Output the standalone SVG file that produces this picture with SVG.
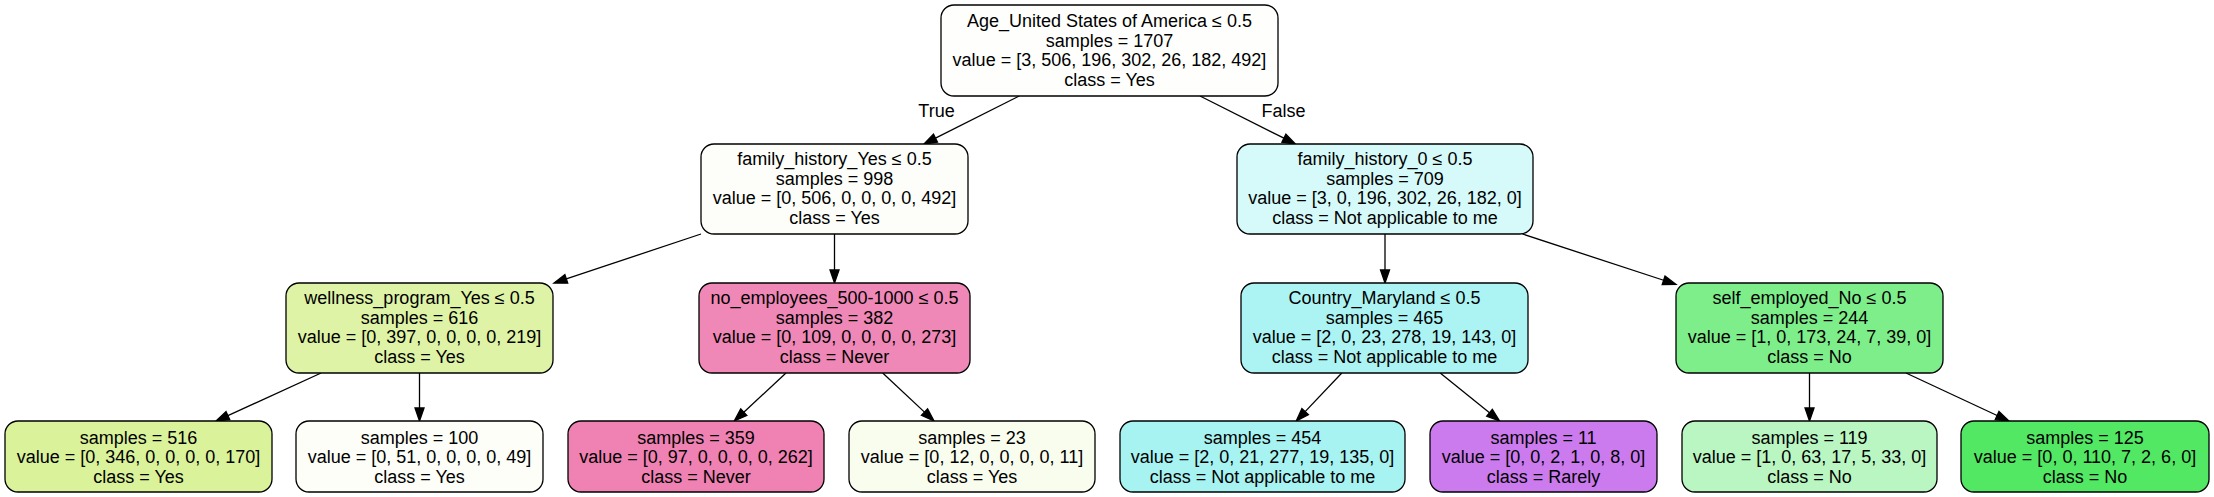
<svg xmlns="http://www.w3.org/2000/svg" width="2214" height="497" viewBox="0 0 2214 497">
<style>
.n{stroke:#000;stroke-width:1.3}
text{font-family:"Liberation Sans",Arial,Helvetica,sans-serif;font-size:18px;text-anchor:middle;fill:#000}
.e line{stroke:#000;stroke-width:1.3;fill:none}
</style>
<defs>
<marker id="ah" markerUnits="userSpaceOnUse" markerWidth="16" markerHeight="12" refX="0" refY="4.5" orient="auto" overflow="visible">
<path d="M0,0 L13,4.5 L0,9 Z" fill="#000" stroke="#000" stroke-width="1.3"/>
</marker>
</defs>
<rect width="2214" height="497" fill="#fff"/>
<g class="e" id="connectors" marker-end="url(#ah)">
<line x1="1019.2" y1="96" x2="935.5" y2="138.15" marker-end="url(#ah)"/>
<line x1="1200" y1="96" x2="1283.9" y2="138.16" marker-end="url(#ah)"/>
<line x1="701" y1="234" x2="566.3" y2="278.9" marker-end="url(#ah)"/>
<line x1="321.1" y1="373" x2="227.9" y2="415.6" marker-end="url(#ah)"/>
<line x1="419.5" y1="373" x2="419.5" y2="408" marker-end="url(#ah)"/>
<line x1="834.5" y1="234" x2="834.5" y2="270" marker-end="url(#ah)"/>
<line x1="786" y1="373" x2="743.8" y2="412.15" marker-end="url(#ah)"/>
<line x1="882.7" y1="373" x2="924.5" y2="412.1" marker-end="url(#ah)"/>
<line x1="1385" y1="234" x2="1385" y2="270" marker-end="url(#ah)"/>
<line x1="1522.4" y1="234" x2="1663.6" y2="280.25" marker-end="url(#ah)"/>
<line x1="1341.8" y1="373" x2="1305.15" y2="411.6" marker-end="url(#ah)"/>
<line x1="1440.2" y1="373" x2="1489.5" y2="412.8" marker-end="url(#ah)"/>
<line x1="1809.5" y1="373" x2="1809.5" y2="408" marker-end="url(#ah)"/>
<line x1="1906" y1="373" x2="1997.1" y2="415.5" marker-end="url(#ah)"/>
<text x="936.5" y="117">True</text>
<text x="1283.5" y="117">False</text>
</g>
<g id="node0">
<rect class="n" x="941" y="5" width="337" height="91" rx="13" fill="#fefffd"/>
<text x="1109.5" y="27">Age_United States of America ≤ 0.5</text>
<text x="1109.5" y="46.5">samples = 1707</text>
<text x="1109.5" y="66">value = [3, 506, 196, 302, 26, 182, 492]</text>
<text x="1109.5" y="85.5">class = Yes</text>
</g>
<g id="node1">
<rect class="n" x="701" y="144" width="267" height="90" rx="13" fill="#fdfefa"/>
<text x="834.5" y="165">family_history_Yes ≤ 0.5</text>
<text x="834.5" y="184.5">samples = 998</text>
<text x="834.5" y="204">value = [0, 506, 0, 0, 0, 0, 492]</text>
<text x="834.5" y="223.5">class = Yes</text>
</g>
<g id="node2">
<rect class="n" x="286" y="283" width="267" height="90" rx="13" fill="#dff3a6"/>
<text x="419.5" y="304">wellness_program_Yes ≤ 0.5</text>
<text x="419.5" y="323.5">samples = 616</text>
<text x="419.5" y="343">value = [0, 397, 0, 0, 0, 0, 219]</text>
<text x="419.5" y="362.5">class = Yes</text>
</g>
<g id="node3">
<rect class="n" x="5" y="421" width="267" height="71" rx="13" fill="#daf29a"/>
<text x="138.5" y="443.5">samples = 516</text>
<text x="138.5" y="463">value = [0, 346, 0, 0, 0, 0, 170]</text>
<text x="138.5" y="482.5">class = Yes</text>
</g>
<g id="node4">
<rect class="n" x="296" y="421" width="247" height="71" rx="13" fill="#fcfef7"/>
<text x="419.5" y="443.5">samples = 100</text>
<text x="419.5" y="463">value = [0, 51, 0, 0, 0, 0, 49]</text>
<text x="419.5" y="482.5">class = Yes</text>
</g>
<g id="node5">
<rect class="n" x="699" y="283" width="271" height="90" rx="13" fill="#ef88b6"/>
<text x="834.5" y="304">no_employees_500-1000 ≤ 0.5</text>
<text x="834.5" y="323.5">samples = 382</text>
<text x="834.5" y="343">value = [0, 109, 0, 0, 0, 0, 273]</text>
<text x="834.5" y="362.5">class = Never</text>
</g>
<g id="node6">
<rect class="n" x="568" y="421" width="256" height="71" rx="13" fill="#ef82b3"/>
<text x="696" y="443.5">samples = 359</text>
<text x="696" y="463">value = [0, 97, 0, 0, 0, 0, 262]</text>
<text x="696" y="482.5">class = Never</text>
</g>
<g id="node7">
<rect class="n" x="849" y="421" width="246" height="71" rx="13" fill="#f9fdee"/>
<text x="972" y="443.5">samples = 23</text>
<text x="972" y="463">value = [0, 12, 0, 0, 0, 0, 11]</text>
<text x="972" y="482.5">class = Yes</text>
</g>
<g id="node8">
<rect class="n" x="1237" y="144" width="296" height="90" rx="13" fill="#d6faf9"/>
<text x="1385" y="165">family_history_0 ≤ 0.5</text>
<text x="1385" y="184.5">samples = 709</text>
<text x="1385" y="204">value = [3, 0, 196, 302, 26, 182, 0]</text>
<text x="1385" y="223.5">class = Not applicable to me</text>
</g>
<g id="node9">
<rect class="n" x="1241" y="283" width="287" height="90" rx="13" fill="#acf4f3"/>
<text x="1384.5" y="304">Country_Maryland ≤ 0.5</text>
<text x="1384.5" y="323.5">samples = 465</text>
<text x="1384.5" y="343">value = [2, 0, 23, 278, 19, 143, 0]</text>
<text x="1384.5" y="362.5">class = Not applicable to me</text>
</g>
<g id="node10">
<rect class="n" x="1120" y="421" width="285" height="71" rx="13" fill="#a7f3f2"/>
<text x="1262.5" y="443.5">samples = 454</text>
<text x="1262.5" y="463">value = [2, 0, 21, 277, 19, 135, 0]</text>
<text x="1262.5" y="482.5">class = Not applicable to me</text>
</g>
<g id="node11">
<rect class="n" x="1430" y="421" width="227" height="71" rx="13" fill="#cb7bee"/>
<text x="1543.5" y="443.5">samples = 11</text>
<text x="1543.5" y="463">value = [0, 0, 2, 1, 0, 8, 0]</text>
<text x="1543.5" y="482.5">class = Rarely</text>
</g>
<g id="node12">
<rect class="n" x="1676" y="283" width="267" height="90" rx="13" fill="#7eee8b"/>
<text x="1809.5" y="304">self_employed_No ≤ 0.5</text>
<text x="1809.5" y="323.5">samples = 244</text>
<text x="1809.5" y="343">value = [1, 0, 173, 24, 7, 39, 0]</text>
<text x="1809.5" y="362.5">class = No</text>
</g>
<g id="node13">
<rect class="n" x="1682" y="421" width="255" height="71" rx="13" fill="#baf6c1"/>
<text x="1809.5" y="443.5">samples = 119</text>
<text x="1809.5" y="463">value = [1, 0, 63, 17, 5, 33, 0]</text>
<text x="1809.5" y="482.5">class = No</text>
</g>
<g id="node14">
<rect class="n" x="1961" y="421" width="248" height="71" rx="13" fill="#52e864"/>
<text x="2085" y="443.5">samples = 125</text>
<text x="2085" y="463">value = [0, 0, 110, 7, 2, 6, 0]</text>
<text x="2085" y="482.5">class = No</text>
</g>
</svg>
